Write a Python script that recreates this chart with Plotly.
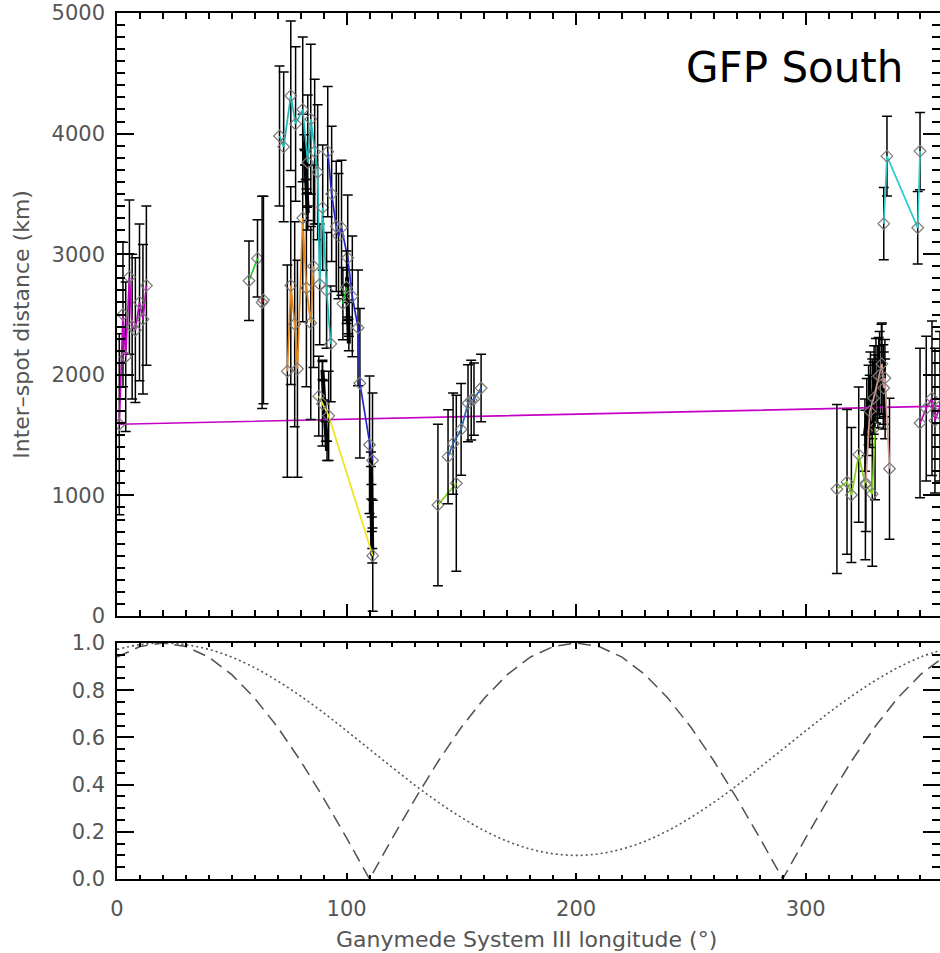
import plotly.graph_objects as go

# ---------------- data ----------------
# magenta: wraps from lon ~350-358 back to lon ~1-13
mag_lon = [349.8, 352.5, 355.0, 356.3, 358.5, 1.0, 2.6, 3.8, 5.4, 6.6, 8.0, 9.8, 11.3, 12.8]
mag_val = [1600, 1720, 1806, 1620, 1740, 1590, 2500, 2150, 2810, 2400, 2370, 2600, 2460, 2740]
mag_err = [620, 600, 640, 600, 620, 750, 600, 620, 640, 600, 600, 650, 620, 660]

grnA_lon = [57.5, 61.2]
grnA_val = [2780, 2965]
grnA_err = [330, 320]

red_lon = [63.2, 63.8]
red_val = [2600, 2620]
red_err = [880, 860]

cyan_lon = [70.8, 72.6, 75.7, 77.8, 80.9, 83.1, 84.4, 86.1, 87.4, 88.3, 89.6, 91.3, 93.1]
cyan_val = [3980, 3890, 4314, 4080, 4200, 3760, 4120, 3850, 3680, 2750, 3386, 2700, 2257]
cyan_err = [580, 620, 620, 640, 600, 560, 620, 600, 560, 500, 520, 480, 480]

orng_lon = [74.2, 75.7, 77.4, 78.6, 80.9, 82.5, 84.4, 85.6]
orng_val = [2030, 2740, 2420, 2050, 3300, 2720, 2430, 2900]
orng_err = [880, 820, 850, 900, 860, 820, 800, 840]

blue_lon = [91.8, 93.5, 95.5, 96.5, 97.8, 100.5, 102.5, 105.0, 105.8, 110.0, 111.3]
blue_val = [3850, 3500, 3230, 3150, 3220, 2970, 2650, 2390, 1930, 1420, 1290]
blue_err = [540, 560, 540, 520, 560, 520, 500, 480, 620, 570, 560]

yell_lon = [87.9, 89.5, 92.2, 111.4]
yell_val = [1823, 1760, 1660, 500]
yell_err = [330, 350, 370, 460]

grnB_lon = [98.4, 100.0]
grnB_val = [2590, 2726]
grnB_err = [300, 300]

lime1_lon = [139.8, 147.8]
lime1_val = [920, 1100]
lime1_err = [670, 730]

stbl_lon = [144.2, 146.4, 149.9, 152.9, 154.3, 155.5, 158.6]
stbl_val = [1321, 1430, 1547, 1764, 1790, 1798, 1890]
stbl_err = [390, 420, 380, 320, 330, 300, 280]

lime2_lon = [313.6, 318.0, 319.9, 323.1, 326.0, 329.0, 330.2]
lime2_val = [1053, 1112, 1003, 1338, 1087, 1012, 1564]
lime2_err = [700, 600, 560, 560, 620, 600, 600]

pink_lon = [326.2, 327.9, 329.6, 331.8, 333.2, 334.0, 334.5, 336.5]
pink_val = [1100, 1697, 1806, 1990, 2090, 1890, 1973, 1221]
pink_err = [400, 300, 300, 320, 340, 300, 320, 585]

cyan2_lon = [334.0, 335.4, 348.8, 349.8]
cyan2_val = [3253, 3813, 3219, 3855]
cyan2_err = [300, 330, 300, 320]

# dense black series
blk1_lon = [81.6, 81.9, 82.2, 82.5, 82.8, 83.1]
blk1_val = [3930, 3800, 3680, 3560, 3450, 3340]
blk1_err = [60, 60, 60, 60, 60, 60]

blk2_lon = [100.2, 100.4, 100.6, 100.8, 101.0]
blk2_val = [2810, 2680, 2540, 2400, 2260]
blk2_err = [60, 60, 60, 60, 60]

blk3_lon = [110.6, 110.8, 111.0, 111.2]
blk3_val = [1300, 1030, 760, 500]
blk3_err = [60, 60, 60, 60]

blk4_lon = [89.5, 90.0, 90.5, 91.0, 91.5]
blk4_val = [2040, 1870, 1700, 1530, 1370]
blk4_err = [80, 80, 80, 80, 80]

blk5_lon = [325.8, 326.6, 327.4, 328.2, 329.0, 329.8, 330.6, 331.4, 332.2, 333.0, 333.8, 334.6]
blk5_val = [1500, 1650, 1750, 1850, 1800, 1900, 1950, 1900, 2000, 2050, 1900, 1800]
blk5_err = [300, 320, 330, 340, 330, 340, 350, 340, 360, 370, 350, 330]

# bottom panel curves (values read every 10 degrees)
curve_lon = list(range(0, 361, 10))
dashed_val = [0.94, 0.985, 1.0, 0.985, 0.94, 0.866, 0.766, 0.643, 0.50, 0.342, 0.174, 0.0,
              0.174, 0.342, 0.50, 0.643, 0.766, 0.866, 0.94, 0.985, 1.0, 0.985, 0.94, 0.866,
              0.766, 0.643, 0.50, 0.342, 0.174, 0.0, 0.174, 0.342, 0.50, 0.643, 0.766, 0.866, 0.94]
dotted_val = [0.973, 0.993, 1.0, 0.993, 0.973, 0.94, 0.895, 0.839, 0.775, 0.704, 0.628, 0.55,
              0.472, 0.396, 0.325, 0.261, 0.205, 0.16, 0.127, 0.107, 0.10, 0.107, 0.127, 0.16,
              0.205, 0.261, 0.325, 0.396, 0.472, 0.55, 0.628, 0.704, 0.775, 0.839, 0.895, 0.94, 0.973]

x_tick_vals = [0, 100, 200, 300]
y_tick_vals = [0, 1000, 2000, 3000, 4000, 5000]
y2_tick_vals = [0.0, 0.2, 0.4, 0.6, 0.8, 1.0]

# ---------------- figure ----------------
fig = go.Figure()

black_series = [
    (blk1_lon, blk1_val, blk1_err),
    (blk2_lon, blk2_val, blk2_err),
    (blk3_lon, blk3_val, blk3_err),
    (blk4_lon, blk4_val, blk4_err),
    (blk5_lon, blk5_val, blk5_err),
]
for lo, va, er in black_series:
    fig.add_trace(go.Scatter(
        x=lo, y=va, mode="lines", line=dict(color="black", width=4),
        error_y=dict(type="data", array=er, color="black", thickness=1.5, width=5),
        xaxis="x", yaxis="y", showlegend=False, hoverinfo="skip"))

colored = [
    (mag_lon, mag_val, mag_err, "#c400c4"),
    (grnA_lon, grnA_val, grnA_err, "#2ccc2c"),
    (red_lon, red_val, red_err, "#e00000"),
    (orng_lon, orng_val, orng_err, "#e4861c"),
    (cyan_lon, cyan_val, cyan_err, "#1cbcbc"),
    (yell_lon, yell_val, yell_err, "#f2e414"),
    (blue_lon, blue_val, blue_err, "#2828c8"),
    (grnB_lon, grnB_val, grnB_err, "#18c018"),
    (lime1_lon, lime1_val, lime1_err, "#84d414"),
    (stbl_lon, stbl_val, stbl_err, "#2464b8"),
    (lime2_lon, lime2_val, lime2_err, "#84d414"),
    (pink_lon, pink_val, pink_err, "#d89a92"),
    (cyan2_lon, cyan2_val, cyan2_err, "#2ccccc"),
]
for lo, va, er, col in colored:
    fig.add_trace(go.Scatter(
        x=lo, y=va, mode="lines+markers",
        line=dict(color=col, width=1.7),
        marker=dict(symbol="diamond-open", size=9, color="#7a7a7a", line=dict(width=1.2)),
        error_y=dict(type="data", array=er, color="black", thickness=1.5, width=5),
        xaxis="x", yaxis="y", showlegend=False, hoverinfo="skip"))

fig.add_trace(go.Scatter(x=curve_lon, y=dashed_val, mode="lines",
                         line=dict(color="#505050", width=1.5, dash="13px,7px"),
                         xaxis="x2", yaxis="y2", showlegend=False, hoverinfo="skip"))
fig.add_trace(go.Scatter(x=curve_lon, y=dotted_val, mode="lines",
                         line=dict(color="#555555", width=1.6, dash="2px,3px", shape="spline"),
                         xaxis="x2", yaxis="y2", showlegend=False, hoverinfo="skip"))

tickfont = dict(family="DejaVu Sans", size=21, color="#555555")
base = dict(showline=True, linecolor="black", linewidth=1.5, mirror="allticks",
            ticks="inside", tickcolor="black", tickwidth=1.5, showgrid=False,
            zeroline=False, automargin=False, tickfont=tickfont)

fig.update_layout(
    width=940, height=953,
    margin=dict(l=117, r=0, t=13, b=74),
    paper_bgcolor="white", plot_bgcolor="white",
    xaxis=dict(base, domain=[0, 1], anchor="y", range=[0, 358.5],
               tickmode="array", tickvals=x_tick_vals, ticklen=12, showticklabels=False,
               minor=dict(dtick=10, tick0=0, ticklen=6, ticks="inside",
                          tickcolor="black", tickwidth=1.5)),
    yaxis=dict(base, domain=[0.3037, 1], anchor="x", range=[0, 5000],
               tickmode="array", tickvals=y_tick_vals, ticklen=17, ticklabelstandoff=6,
               minor=dict(dtick=100, tick0=0, ticklen=8, ticks="inside",
                          tickcolor="black", tickwidth=1.5)),
    xaxis2=dict(base, domain=[0, 1], anchor="y2", range=[0, 358.5],
                tickmode="array", tickvals=x_tick_vals, ticklen=6, ticklabelstandoff=10,
                minor=dict(dtick=10, tick0=0, ticklen=4, ticks="inside",
                           tickcolor="black", tickwidth=1.5)),
    yaxis2=dict(base, domain=[0, 0.2725], anchor="x2", range=[0, 1],
                tickmode="array", tickvals=y2_tick_vals, tickformat=".1f", ticklen=17,
                ticklabelstandoff=6,
                minor=dict(dtick=0.05, tick0=0, ticklen=8, ticks="inside",
                           tickcolor="black", tickwidth=1.5)),
    annotations=[
        dict(text="GFP South", xref="paper", yref="paper", x=0.8238, y=0.9365,
             xanchor="center", yanchor="middle", showarrow=False,
             font=dict(family="DejaVu Sans", size=42, color="black")),
        dict(text="Inter\u2013spot distance (km)", xref="paper", yref="paper",
             x=-0.1154, y=0.640, textangle=-90, xanchor="center", yanchor="middle",
             showarrow=False, font=dict(family="DejaVu Sans", size=22, color="#555555")),
        dict(text="Ganymede System III longitude (\u00b0)", xref="paper", yref="paper",
             x=0.497, y=-0.0704, xanchor="center", yanchor="middle", showarrow=False,
             font=dict(family="DejaVu Sans", size=22, color="#555555")),
    ],
)

fig.write_html("out.html", config={"displayModeBar": False},
               post_script="document.body.style.margin='0';document.body.style.overflow='hidden';")
